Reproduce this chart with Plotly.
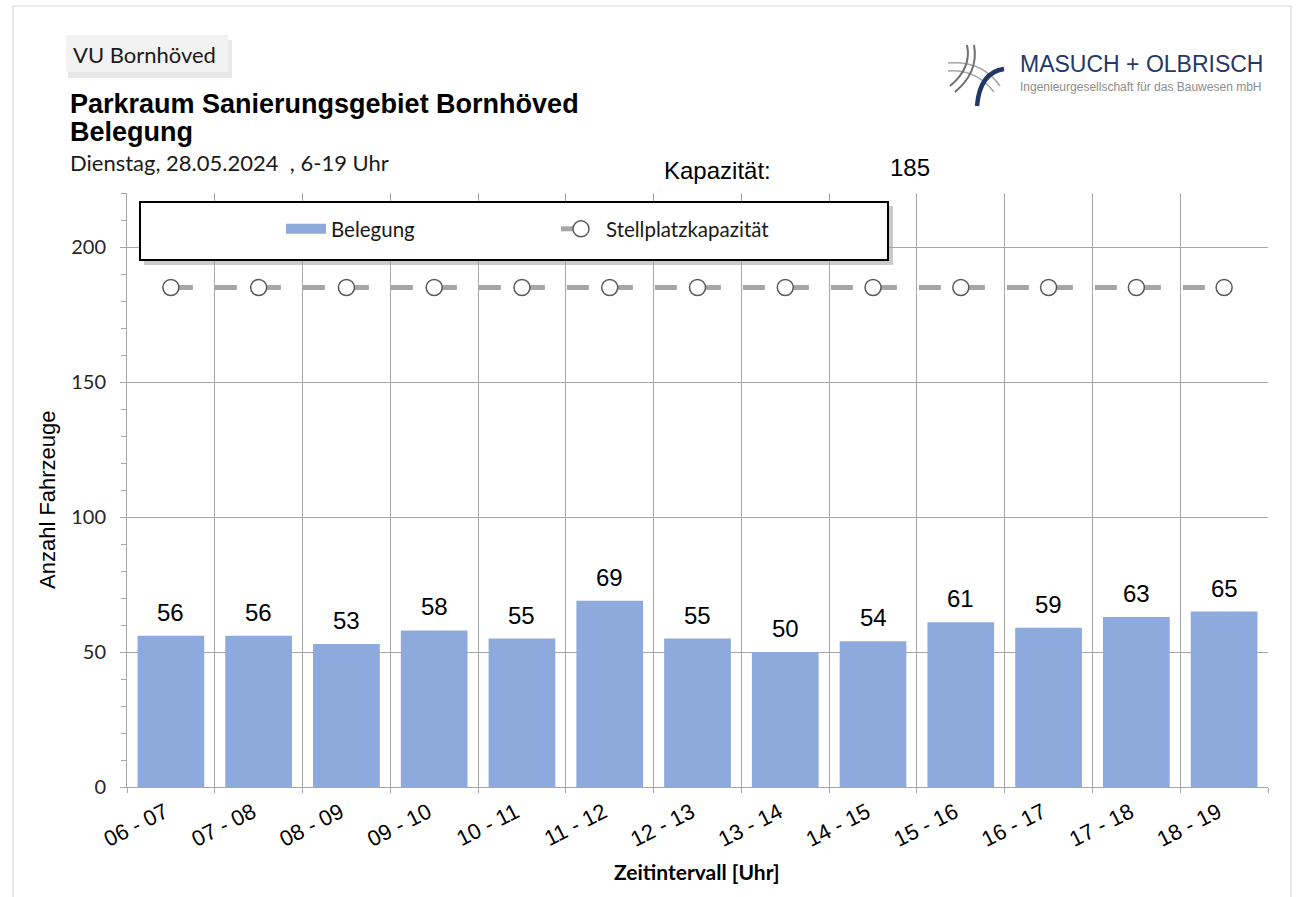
import plotly.graph_objects as go

categories = ["06 - 07", "07 - 08", "08 - 09", "09 - 10", "10 - 11", "11 - 12", "12 - 13",
              "13 - 14", "14 - 15", "15 - 16", "16 - 17", "17 - 18", "18 - 19"]
belegung = [56, 56, 53, 58, 55, 69, 55, 50, 54, 61, 59, 63, 65]
kapazitaet = [185] * 13
y_ticks = [0, 50, 100, 150, 200]

W, H = 1299, 897
L, R, T, B = 127, 1268, 193, 787
PW, PH = R - L, B - T

def px(x):
    return (x - L) / PW

def py(y):
    return (B - y) / PH

CAL = "Lato, 'Open Sans', sans-serif"
ARIAL = "Arial, 'Liberation Sans', sans-serif"
BAR_COLOR = "#8EA9DB"

fig = go.Figure()
fig.add_trace(go.Bar(
    x=categories, y=belegung, name="Belegung", showlegend=False,
    marker=dict(color=BAR_COLOR, line=dict(width=0)),
))
# legend proxy for the bar series (wide rectangle symbol)
fig.add_trace(go.Scatter(
    x=[None], y=[None], name="Belegung", mode="lines",
    line=dict(color=BAR_COLOR, width=10), showlegend=True,
))
fig.add_trace(go.Scatter(
    x=categories, y=kapazitaet, name="Stellplatzkapazität", mode="lines+markers",
    line=dict(color="#A6A6A6", width=5, dash="22px,22px"),
    marker=dict(symbol="circle", size=16, color="white", line=dict(color="#595959", width=1.5)),
))

annotations = []
for c, v in zip(categories, belegung):
    annotations.append(dict(x=c, y=v, xref="x", yref="y", text=str(v), showarrow=False,
                            yanchor="bottom", yshift=8, font=dict(family=ARIAL, size=24, color="#000")))

def text(x, y, s, size, family, color="#000", bold=False, xanchor="left", angle=0):
    if bold:
        s = "<b>" + s + "</b>"
    annotations.append(dict(x=px(x), y=py(y), xref="paper", yref="paper", text=s, showarrow=False,
                            xanchor=xanchor, yanchor="middle", textangle=angle,
                            font=dict(family=family, size=size, color=color)))

text(71, 54, "VU Bornhöved", 22, CAL, "#1a1a1a")
text(68, 104, "Parkraum Sanierungsgebiet Bornhöved", 27, ARIAL, bold=True)
text(68, 132, "Belegung", 27, ARIAL, bold=True)
text(68, 163, "Dienstag, 28.05.2024  , 6-19 Uhr", 22, CAL, "#1a1a1a")
text(662, 170, "Kapazität:", 24, ARIAL)
text(888, 168, "185", 24, ARIAL)
text(1018, 64, "MASUCH + OLBRISCH", 23, ARIAL, "#24386B")
text(1018, 87, "Ingenieurgesellschaft für das Bauwesen mbH", 12, ARIAL, "#8C8C8C")
text(697, 871, "Zeitintervall [Uhr]", 21, CAL, "#000", bold=True, xanchor="center")
text(47, 500, "Anzahl Fahrzeuge", 22, ARIAL, "#000", xanchor="center", angle=-90)

shapes = []
def rect(x0, y0, x1, y1, fill=None, line=None, lw=0, layer="above", opacity=1):
    shapes.append(dict(type="rect", xref="paper", yref="paper", x0=px(x0), x1=px(x1), y0=py(y1), y1=py(y0),
                       fillcolor=fill if fill else "rgba(0,0,0,0)",
                       line=dict(color=line if line else "rgba(0,0,0,0)", width=lw),
                       layer=layer, opacity=opacity))

# page border
rect(13, 6, 1291, 905, line="#D4D4D4", lw=1, layer="below")
# VU box with shadow
rect(68, 40, 232, 78, fill="#D9D9D9", opacity=0.6, layer="below")
rect(66, 35, 228, 72, fill="#F2F2F2", layer="below")
# legend box with shadow
rect(144, 206, 893, 265, fill="#A6A6A6", opacity=0.6)
rect(140, 202, 888, 260, fill="white", line="black", lw=2)

def path(pts, color, width):
    d = ""
    for cmd, coords in pts:
        d += cmd + " " + " ".join(f"{px(a):.5f},{py(b):.5f}" for a, b in coords) + " "
    shapes.append(dict(type="path", xref="paper", yref="paper", path=d.strip(),
                       line=dict(color=color, width=width), layer="above"))

# logo icon
path([("M", [(948, 63)]), ("Q", [(982, 60), (1000, 86)])], "#A6A6A6", 1.5)
path([("M", [(948, 71)]), ("Q", [(976, 69), (994, 92)])], "#A6A6A6", 1.5)
path([("M", [(967, 45)]), ("Q", [(972, 68), (950, 86)])], "#6F6F6F", 2)
path([("M", [(974, 45)]), ("Q", [(979, 72), (955, 92)])], "#6F6F6F", 2)
path([("M", [(1004, 69)]), ("Q", [(980, 72), (977, 106)])], "#1F3864", 4.5)

fig.update_layout(
    width=W, height=H,
    margin=dict(l=L, r=W - R, t=T, b=H - B),
    paper_bgcolor="white", plot_bgcolor="white",
    bargap=0.24,
    showlegend=True,
    legend=dict(orientation="h", x=px(281), y=py(229), xanchor="left", yanchor="middle",
                bgcolor="rgba(0,0,0,0)", borderwidth=0,
                font=dict(family=CAL, size=20.5, color="#1a1a1a"),
                entrywidth=220, entrywidthmode="pixels", itemwidth=40),
    xaxis=dict(type="category", tickson="boundaries", showgrid=True, gridcolor="#A6A6A6", gridwidth=1,
               showline=True, linecolor="#A6A6A6", linewidth=1, mirror=False,
               ticks="outside", ticklen=5, tickcolor="#A6A6A6", tickangle=-27,
               ticklabelshift=-6, ticklabelstandoff=3,
               tickfont=dict(family=ARIAL, size=22, color="#000"), range=[-0.5, 12.5]),
    yaxis=dict(range=[0, 220], tickvals=y_ticks, showgrid=True, gridcolor="#A6A6A6", gridwidth=1,
               showline=True, linecolor="#A6A6A6", linewidth=1, zeroline=False,
               ticks="outside", ticklen=6, tickcolor="#A6A6A6", ticklabelstandoff=10,
               minor=dict(dtick=10, ticks="outside", ticklen=5, tickcolor="#A6A6A6", showgrid=False),
               tickfont=dict(family=CAL, size=20, color="#262626")),
    annotations=annotations,
    shapes=shapes,
)

fig.write_html("out.html", config={"displayModeBar": False},
               post_script="document.body.style.margin='0';")
